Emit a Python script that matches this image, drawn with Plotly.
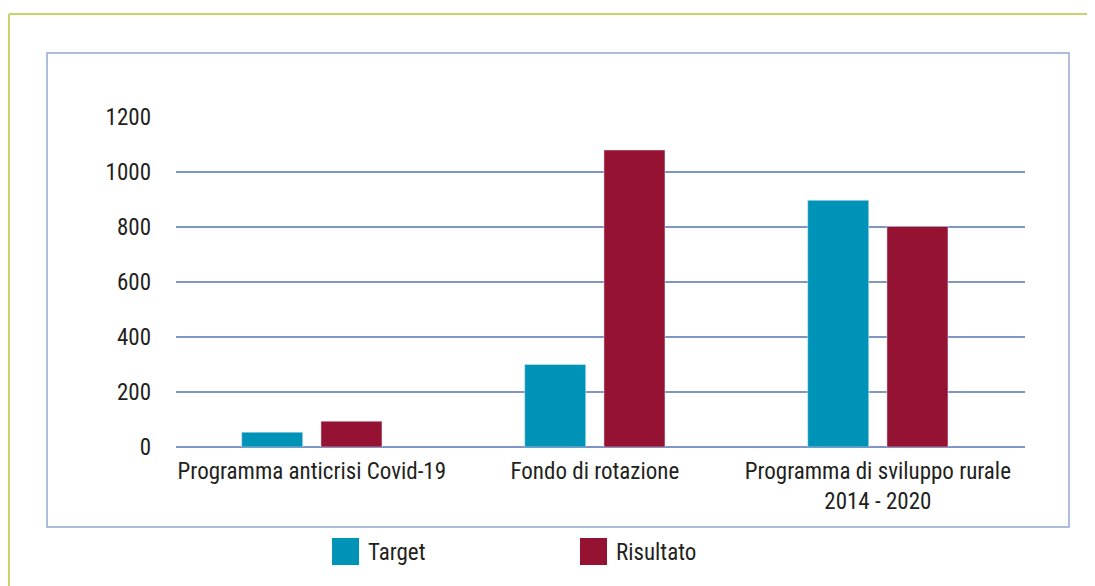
import plotly.graph_objects as go

categories = ["Programma anticrisi Covid-19", "Fondo di rotazione", "Programma di sviluppo rurale<br>2014 - 2020"]
target = [54, 300, 897]
risultato = [94, 1080, 802]
series_names = ["Target", "Risultato"]
colors = ["#0093b8", "#961232"]
y_ticks = [0, 200, 400, 600, 800, 1000, 1200]

W, H = 1095, 586
OFF = 8  # page body margin
L, R, T, B = 176 - OFF, 70 + OFF, 117 - OFF, 139 + OFF
FONT = "Roboto Condensed, DejaVu Sans Condensed, sans-serif"
FS = 23
TXT = "#231f20"
GRID = "#7f95c3"

def px(x):
    return (x - OFF - L) / (W - L - R)

def py(y):
    return 1 - (y - OFF - T) / (H - T - B)

fig = go.Figure()
fig.add_trace(go.Bar(x=categories, y=target, name=series_names[0], marker_color=colors[0]))
fig.add_trace(go.Bar(x=categories, y=risultato, name=series_names[1], marker_color=colors[1]))

shapes = [
    dict(type="line", xref="paper", yref="paper", x0=px(9), x1=px(W + 20), y0=py(14), y1=py(14),
         line=dict(color="#c9d36b", width=2)),
    dict(type="line", xref="paper", yref="paper", x0=px(9), x1=px(9), y0=py(14), y1=py(H + 20),
         line=dict(color="#c9d36b", width=2)),
    dict(type="rect", xref="paper", yref="paper", x0=px(47), x1=px(1069), y0=py(53), y1=py(527),
         line=dict(color="#93a8cf", width=1.5), layer="below"),
]
annotations = []
leg_x = [332, 580]
for i, name in enumerate(series_names):
    shapes.append(dict(type="rect", xref="paper", yref="paper",
                       x0=px(leg_x[i]), x1=px(leg_x[i] + 27), y0=py(538), y1=py(565),
                       fillcolor=colors[i], line=dict(width=0)))
    annotations.append(dict(xref="paper", yref="paper", x=px(leg_x[i] + 34), y=py(552),
                            text=name, showarrow=False, xanchor="left", yanchor="middle",
                            font=dict(family=FONT, size=FS, color=TXT)))

fig.update_layout(
    width=W, height=H,
    margin=dict(l=L, r=R, t=T, b=B, autoexpand=False),
    paper_bgcolor="white", plot_bgcolor="white",
    barmode="group", bargap=0.44, bargroupgap=0.23,
    showlegend=False,
    font=dict(family=FONT, size=FS, color=TXT),
    shapes=shapes, annotations=annotations,
)
fig.update_yaxes(range=[0, 1200], tickvals=y_ticks, showgrid=True, gridcolor=GRID, gridwidth=1.5,
                 zeroline=True, zerolinecolor=GRID, zerolinewidth=1.5, showline=False,
                 ticklabelstandoff=24, tickfont=dict(family=FONT, size=FS, color=TXT))
fig.update_xaxes(range=[-0.48, 2.52], showline=False, ticklabelstandoff=8,
                 tickfont=dict(family=FONT, size=FS, color=TXT))

fig.write_html("out.html")
